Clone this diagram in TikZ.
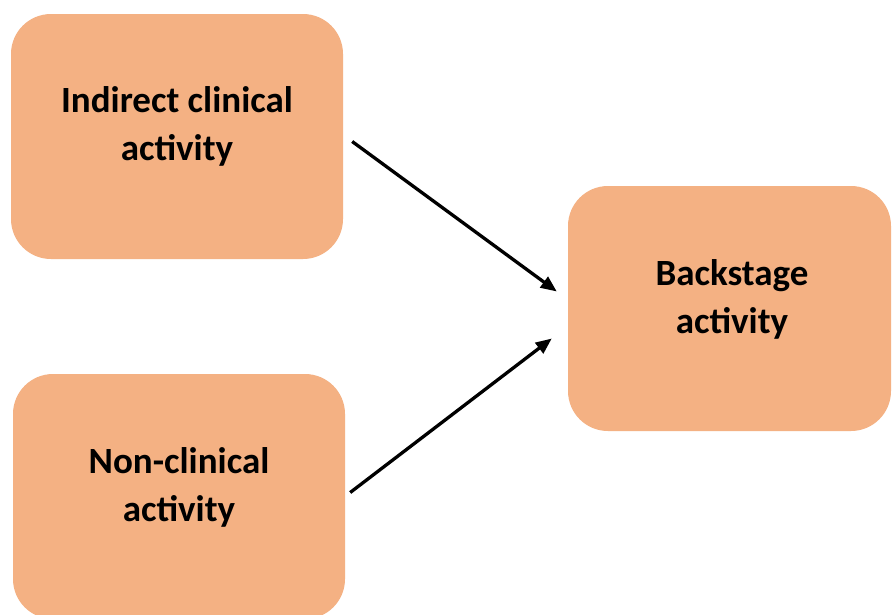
\documentclass[tikz,border=0pt]{standalone}
\usepackage{fontspec}
\setmainfont{Carlito}
\usetikzlibrary{arrows.meta,calc}
\definecolor{peach}{HTML}{F4B183}
\tikzset{
  actbox/.style={fill=peach, draw=none, rounded corners=40pt, inner sep=0pt},
  acttext/.style={align=center, inner sep=0pt, font=\bfseries\fontsize{37}{48}\selectfont},
  link/.style={line width=3.3pt, -{Triangle[length=16pt,width=13pt]}}
}
\begin{document}
\begin{tikzpicture}[x=1pt,y=-1pt]
  \useasboundingbox (0,0) rectangle (892,614);
  \fill[white] (0,0) rectangle (892,614);

  % the three activity boxes
  \path[actbox] (11,14) rectangle (343,259);
  \node[inner sep=0pt, minimum width=332pt, minimum height=245pt] (b1) at (177,136.5) {};
  \path[actbox] (13,374) rectangle (345,619);
  \node[inner sep=0pt, minimum width=332pt, minimum height=245pt] (b2) at (179,496.5) {};
  \path[actbox] (568,186) rectangle (891,431);
  \node[inner sep=0pt, minimum width=323pt, minimum height=245pt] (b3) at (729.5,308.5) {};

  % labels
  \node[acttext] (t1) at (177,126) {Indirect clinical\\activity};
  \node[acttext] (t2) at (179,487) {Non-clinical\\activity};
  \node[acttext] (t3) at (732,299) {Backstage\\activity};

  % connectors into the backstage box
  \coordinate (s1) at ($(b1.east)+(9,5)$);
  \coordinate (e1) at ($(b3.west)+(-11,-17)$);
  \coordinate (s2) at ($(b2.east)+(5,-4)$);
  \coordinate (e2) at ($(b3.west)+(-16,30)$);
  \draw[link] (s1) -- (e1);
  \draw[link] (s2) -- (e2);
\end{tikzpicture}
\end{document}
